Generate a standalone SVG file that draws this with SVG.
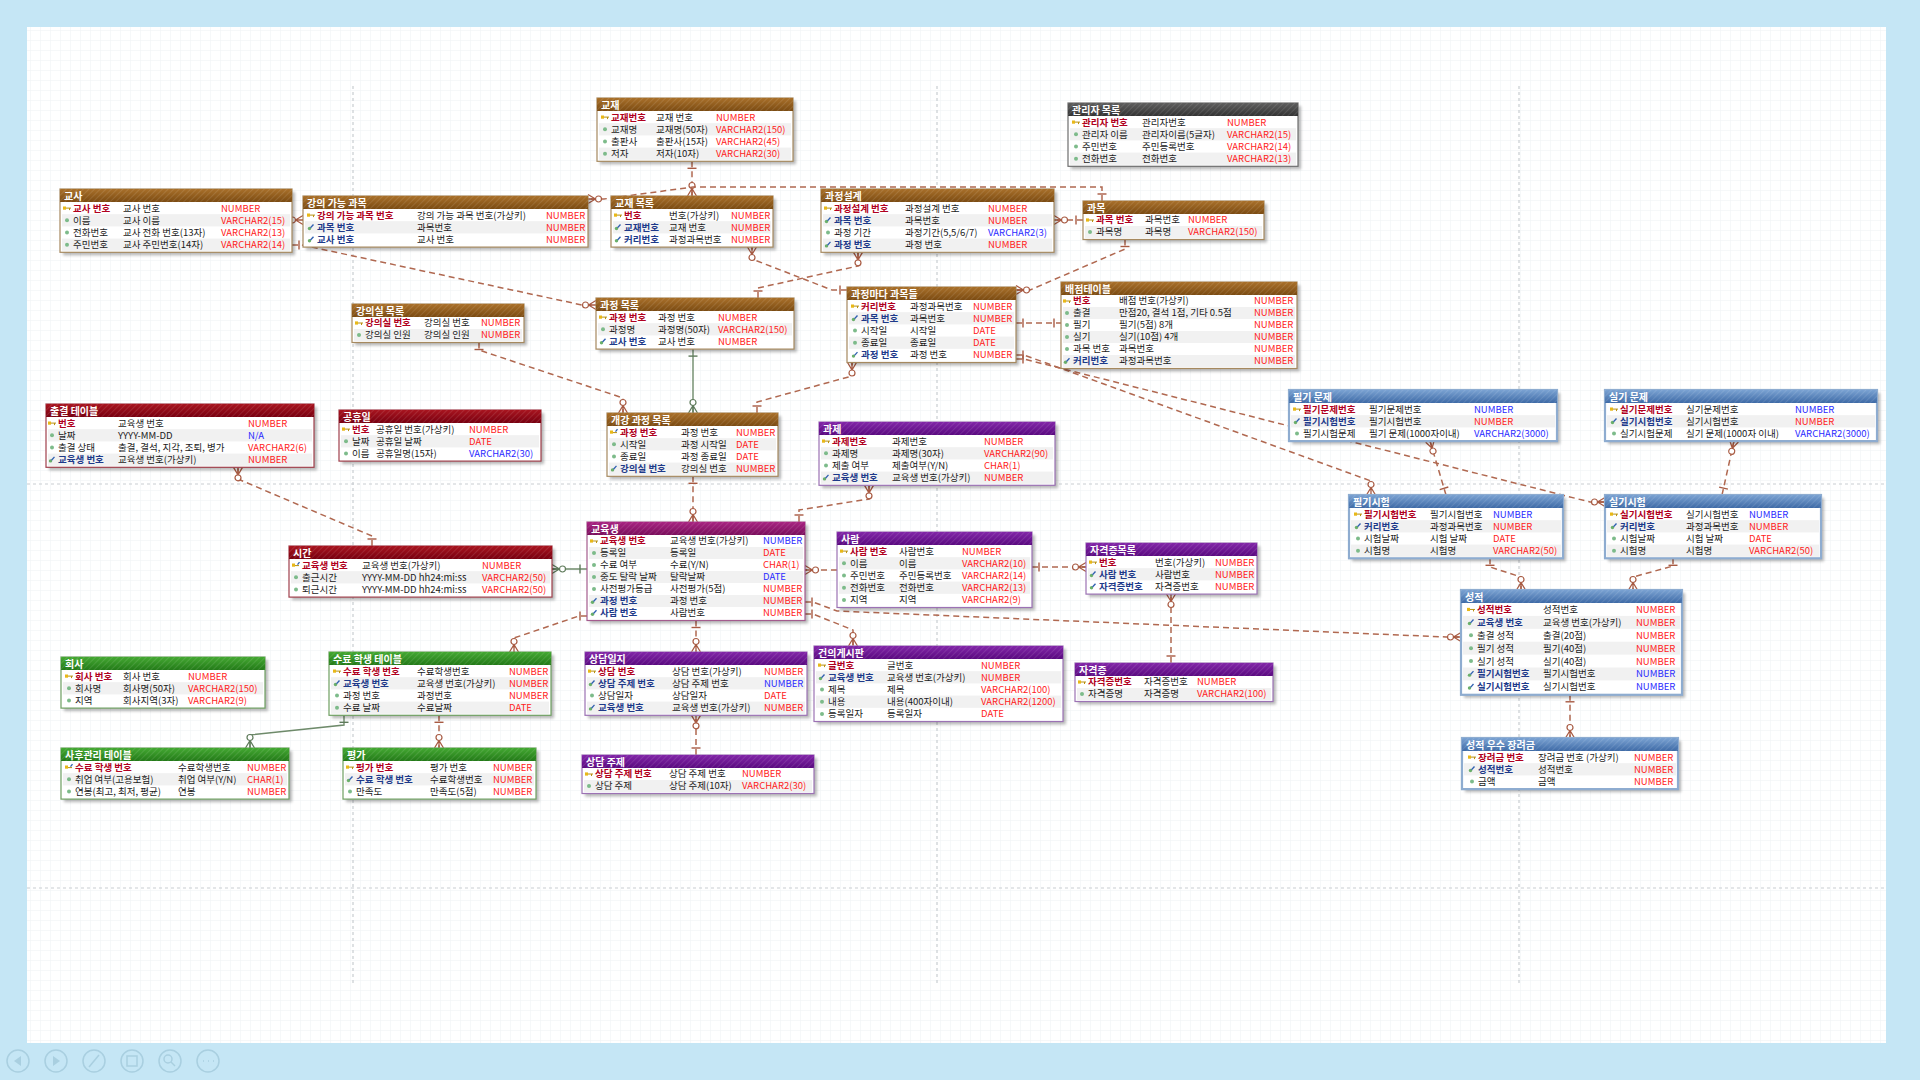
<svg xmlns="http://www.w3.org/2000/svg" width="1920" height="1080" viewBox="0 0 1920 1080">
<style>
text{font-family:"Noto Sans CJK KR","Noto Sans",sans-serif;font-size:9.5px;fill:#1a1a1a}
.ttl{fill:#fff;font-weight:700;font-size:10px}
.pk{fill:#B00020;font-weight:700}
.fk{fill:#1E3A8A;font-weight:700}
.r{fill:#FF2222}
.b{fill:#2B2BFF}
.sh{fill:#000;opacity:.28;filter:url(#blur)}
.alt{fill:#F1F1F1}
.f{fill:#fff;stroke-width:1.2}
.fb{stroke:#A6895F}.fg{stroke:#6E6E6E}.fr{stroke:#A0404C}.fp{stroke:#9C72B4}.fm{stroke:#A45C8E}.fn{stroke:#6FA062}.fl{stroke:#8EACD0;stroke-width:2.2}
.cn{fill:none;stroke:#B06850;stroke-width:1.5;stroke-dasharray:6 4}
.cg{fill:none;stroke:#6E8A6A;stroke-width:1.4}
.pl{fill:none;stroke:#C9CDD1;stroke-width:1.2;stroke-dasharray:3 3}
.tb{fill:none;stroke:#A9CFE0;stroke-width:1.5}
</style>
<defs>
<filter id="blur" x="-10%" y="-10%" width="120%" height="130%"><feGaussianBlur stdDeviation="1.5"/></filter>
<pattern id="grid" width="10" height="10" patternUnits="userSpaceOnUse"><path d="M10,0H0V10" fill="none" stroke="#EEF1F4" stroke-width="1"/></pattern>
<pattern id="hatch" width="4" height="4" patternUnits="userSpaceOnUse" patternTransform="rotate(45)"><path d="M0,0V4" stroke="#fff" stroke-opacity=".14" stroke-width="1.5"/></pattern>
<linearGradient id="gB" x1="0" y1="0" x2="0" y2="1"><stop offset="0" stop-color="#A9702A"/><stop offset="1" stop-color="#7B4B12"/></linearGradient>
<linearGradient id="gG" x1="0" y1="0" x2="0" y2="1"><stop offset="0" stop-color="#5E5E5E"/><stop offset="1" stop-color="#333"/></linearGradient>
<linearGradient id="gR" x1="0" y1="0" x2="0" y2="1"><stop offset="0" stop-color="#A8141F"/><stop offset="1" stop-color="#780010"/></linearGradient>
<linearGradient id="gP" x1="0" y1="0" x2="0" y2="1"><stop offset="0" stop-color="#8226A8"/><stop offset="1" stop-color="#5A0A80"/></linearGradient>
<linearGradient id="gM" x1="0" y1="0" x2="0" y2="1"><stop offset="0" stop-color="#A82482"/><stop offset="1" stop-color="#7A0E5C"/></linearGradient>
<linearGradient id="gN" x1="0" y1="0" x2="0" y2="1"><stop offset="0" stop-color="#44A832"/><stop offset="1" stop-color="#237A18"/></linearGradient>
<linearGradient id="gL" x1="0" y1="0" x2="0" y2="1"><stop offset="0" stop-color="#7AA2D2"/><stop offset="1" stop-color="#3E6AA6"/></linearGradient>
<g id="k"><rect x="-4" y="-1.6" width="3" height="3.2" fill="#E8B818"/><path d="M-1,0H4M2.5,0V2" fill="none" stroke="#B89010" stroke-width="1"/></g>
<g id="f"><circle cx="-1.5" cy="1.2" r="1.7" fill="#6AAF6A"/><path d="M-0.5,0.5L2.5,-2.8" stroke="#3060B0" stroke-width="1.3"/></g>
<g id="kf"><rect x="-4" y="-1.6" width="3" height="3.2" fill="#E8B818"/><path d="M-1,0.5H3" stroke="#B89010" stroke-width="1"/><path d="M1.5,-0.5L3.5,-3" stroke="#3060B0" stroke-width="1.3"/></g>
<circle id="d" r="2" fill="#7DBB8A"/>
<marker id="one" viewBox="-12 -8 24 16" markerWidth="24" markerHeight="16" refX="0" refY="0" orient="auto" markerUnits="userSpaceOnUse" overflow="visible"><path d="M7,-4.5V4.5" fill="none" stroke="#A85A42" stroke-width="1.4"/></marker>
<marker id="oneE" viewBox="-12 -8 24 16" markerWidth="24" markerHeight="16" refX="0" refY="0" orient="auto" markerUnits="userSpaceOnUse" overflow="visible"><path d="M-7,-4.5V4.5" fill="none" stroke="#A85A42" stroke-width="1.4"/></marker>
<marker id="many" viewBox="-16 -8 32 16" markerWidth="32" markerHeight="16" refX="0" refY="0" orient="auto" markerUnits="userSpaceOnUse" overflow="visible"><path d="M-7.5,0L0,-4.5M-7.5,0H0M-7.5,0L0,4.5" fill="none" stroke="#A85A42" stroke-width="1.3"/><circle cx="-10.5" cy="0" r="3" fill="#fff" stroke="#A85A42" stroke-width="1.2"/></marker>
<marker id="oneG" viewBox="-12 -8 24 16" markerWidth="24" markerHeight="16" refX="0" refY="0" orient="auto" markerUnits="userSpaceOnUse" overflow="visible"><path d="M7,-4.5V4.5" fill="none" stroke="#5E7A5A" stroke-width="1.4"/></marker>
<marker id="manyG" viewBox="-16 -8 32 16" markerWidth="32" markerHeight="16" refX="0" refY="0" orient="auto" markerUnits="userSpaceOnUse" overflow="visible"><path d="M-7.5,0L0,-4.5M-7.5,0H0M-7.5,0L0,4.5" fill="none" stroke="#5E7A5A" stroke-width="1.3"/><circle cx="-10.5" cy="0" r="3" fill="#fff" stroke="#5E7A5A" stroke-width="1.2"/></marker>
</defs>

<rect width="1920" height="1080" fill="#C5E6F5"/>
<rect x="27" y="27" width="1859" height="1016" fill="#fff"/>
<rect x="27" y="27" width="1859" height="1016" fill="url(#grid)"/>
<g id="pagelines">
<path class="pl" d="M353,86V986M937,86V986M1519,86V986M27,484H1886M27,888H1886"/>
</g>
<g id="toolbar">
<circle class="tb" cx="18" cy="1061" r="11"/><path d="M21,1056L14,1061L21,1066Z" fill="#A9CFE0"/>
<circle class="tb" cx="56" cy="1061" r="11"/><path d="M53,1056L60,1061L53,1066Z" fill="#A9CFE0"/>
<circle class="tb" cx="94" cy="1061" r="11"/><path class="tb" d="M89,1067L99,1055"/>
<circle class="tb" cx="132" cy="1061" r="11"/><rect class="tb" x="127" y="1056" width="10" height="10"/>
<circle class="tb" cx="170" cy="1061" r="11"/><circle class="tb" cx="168" cy="1059" r="4"/><path class="tb" d="M171,1062L175,1066"/>
<circle class="tb" cx="208" cy="1061" r="11"/><path class="tb" d="M203,1061h1M208,1061h1M213,1061h1"/>
</g>

<g id="connectors">
<path class="cn" marker-start="url(#one)" marker-end="url(#many)" d="M692,161.3V196"/>
<path class="cn" marker-start="url(#one)" marker-end="url(#many)" d="M1102,201V187H693L604,199H588"/>
<path class="cn" marker-end="url(#many)" d="M292,220H303"/>
<path class="cn" marker-start="url(#one)" marker-end="url(#many)" d="M292,245H302L582,305H596"/>
<path class="cn" marker-start="url(#one)" marker-end="url(#many)" d="M847,290H832L752,259V247"/>
<path class="cn" marker-start="url(#one)" marker-end="url(#many)" d="M758,298V288L858,266V252.3"/>
<path class="cn" marker-start="url(#one)" marker-end="url(#many)" d="M1083,220H1054"/>
<path class="cn" marker-start="url(#one)" marker-end="url(#many)" d="M1125,239.5V249L1030,290H1016"/>
<path class="cn" marker-start="url(#one)" marker-end="url(#oneE)" d="M1016,323H1061"/>
<path class="cn" marker-start="url(#one)" marker-end="url(#many)" d="M1016,355H1024L1371,481V495"/>
<path class="cn" marker-start="url(#one)" marker-end="url(#many)" d="M1016,359H1024L1590,502H1605"/>
<path class="cn" marker-start="url(#one)" marker-end="url(#many)" d="M1446,495L1430,441"/>
<path class="cn" marker-start="url(#one)" marker-end="url(#many)" d="M1722,495L1734,441"/>
<path class="cn" marker-start="url(#one)" marker-end="url(#many)" d="M1490,558.3V567L1521,577V590"/>
<path class="cn" marker-start="url(#one)" marker-end="url(#many)" d="M1673,558.3V566L1633,577V590"/>
<path class="cn" marker-start="url(#one)" marker-end="url(#many)" d="M1570,694.8V738"/>
<path class="cn" marker-start="url(#one)" marker-end="url(#many)" d="M805,602H813L837,611L1446,637H1461"/>
<path class="cn" marker-start="url(#one)" marker-end="url(#many)" d="M805,614H813L853,630V646"/>
<path class="cn" marker-end="url(#many)" d="M837,570H805"/>
<path class="cn" marker-start="url(#one)" marker-end="url(#many)" d="M1032,567H1086"/>
<path class="cn" marker-start="url(#one)" marker-end="url(#many)" d="M1171,663V594"/>
<path class="cn" marker-start="url(#one)" marker-end="url(#many)" d="M799,522V510L869,499V485.3"/>
<path class="cn" marker-start="url(#one)" marker-end="url(#many)" d="M693,476.3V522"/>
<path class="cg" marker-start="url(#oneG)" marker-end="url(#manyG)" d="M693,349.1V413"/>
<path class="cn" marker-start="url(#one)" marker-end="url(#many)" d="M479,342.5V350L623,398V413"/>
<path class="cn" marker-start="url(#one)" marker-end="url(#many)" d="M757,413V402L852,376V362.5"/>
<path class="cg" marker-start="url(#oneG)" marker-end="url(#manyG)" d="M587,569H552"/>
<path class="cn" marker-start="url(#one)" marker-end="url(#many)" d="M372,546V536L238,479V467.3"/>
<path class="cn" marker-start="url(#one)" marker-end="url(#many)" d="M587,616H579L514,638V652"/>
<path class="cn" marker-start="url(#one)" marker-end="url(#many)" d="M696,620.5V652"/>
<path class="cn" marker-start="url(#one)" marker-end="url(#many)" d="M696,755V715.3"/>
<path class="cg" marker-start="url(#oneG)" marker-end="url(#manyG)" d="M344,715.3V725L250,735V748"/>
<path class="cn" marker-start="url(#one)" marker-end="url(#many)" d="M439,715.3V748"/>
</g>

<g id="t01" transform="translate(597,98)">
<rect class="sh" x="3" y="3" width="196" height="63.3"/><rect class="f fb" width="196" height="63.3"/>
<rect width="196" height="13" fill="url(#gB)"/><rect width="196" height="13" fill="url(#hatch)"/><text class="ttl" x="4" y="10.5">교재</text>
<rect class="alt" x="2" y="25.2" width="192" height="12.2"/><rect class="alt" x="2" y="49.6" width="192" height="12.2"/>
<use href="#k" x="8" y="19.1"/><text class="pk" x="14" y="22.5">교재번호</text><text x="59" y="22.5">교재 번호</text><text class="r" x="119" y="22.5">NUMBER</text>
<use href="#d" x="8" y="31.3"/><text x="14" y="34.7">교재명</text><text x="59" y="34.7">교재명(50자)</text><text class="r" x="119" y="34.7">VARCHAR2(150)</text>
<use href="#d" x="8" y="43.5"/><text x="14" y="46.9">출판사</text><text x="59" y="46.9">출판사(15자)</text><text class="r" x="119" y="46.9">VARCHAR2(45)</text>
<use href="#d" x="8" y="55.7"/><text x="14" y="59.1">저자</text><text x="59" y="59.1">저자(10자)</text><text class="r" x="119" y="59.1">VARCHAR2(30)</text>
</g>

<g id="t02" transform="translate(1068,103)">
<rect class="sh" x="3" y="3" width="230" height="63.3"/><rect class="f fg" width="230" height="63.3"/>
<rect width="230" height="13" fill="url(#gG)"/><rect width="230" height="13" fill="url(#hatch)"/><text class="ttl" x="4" y="10.5">관리자 목록</text>
<rect class="alt" x="2" y="25.2" width="226" height="12.2"/><rect class="alt" x="2" y="49.6" width="226" height="12.2"/>
<use href="#k" x="8" y="19.1"/><text class="pk" x="14" y="22.5">관리자 번호</text><text x="74" y="22.5">관리자번호</text><text class="r" x="159" y="22.5">NUMBER</text>
<use href="#d" x="8" y="31.3"/><text x="14" y="34.7">관리자 이름</text><text x="74" y="34.7">관리자이름(5글자)</text><text class="r" x="159" y="34.7">VARCHAR2(15)</text>
<use href="#d" x="8" y="43.5"/><text x="14" y="46.9">주민번호</text><text x="74" y="46.9">주민등록번호</text><text class="r" x="159" y="46.9">VARCHAR2(14)</text>
<use href="#d" x="8" y="55.7"/><text x="14" y="59.1">전화번호</text><text x="74" y="59.1">전화번호</text><text class="r" x="159" y="59.1">VARCHAR2(13)</text>
</g>

<g id="t03" transform="translate(60,189)">
<rect class="sh" x="3" y="3" width="232" height="63.3"/><rect class="f fb" width="232" height="63.3"/>
<rect width="232" height="13" fill="url(#gB)"/><rect width="232" height="13" fill="url(#hatch)"/><text class="ttl" x="4" y="10.5">교사</text>
<rect class="alt" x="2" y="25.2" width="228" height="12.2"/><rect class="alt" x="2" y="49.6" width="228" height="12.2"/>
<use href="#k" x="7" y="19.1"/><text class="pk" x="13" y="22.5">교사 번호</text><text x="63" y="22.5">교사 번호</text><text class="r" x="161" y="22.5">NUMBER</text>
<use href="#d" x="7" y="31.3"/><text x="13" y="34.7">이름</text><text x="63" y="34.7">교사 이름</text><text class="r" x="161" y="34.7">VARCHAR2(15)</text>
<use href="#d" x="7" y="43.5"/><text x="13" y="46.9">전화번호</text><text x="63" y="46.9">교사 전화 번호(13자)</text><text class="r" x="161" y="46.9">VARCHAR2(13)</text>
<use href="#d" x="7" y="55.7"/><text x="13" y="59.1">주민번호</text><text x="63" y="59.1">교사 주민번호(14자)</text><text class="r" x="161" y="59.1">VARCHAR2(14)</text>
</g>

<g id="t04" transform="translate(303,196)">
<rect class="sh" x="3" y="3" width="285" height="51.1"/><rect class="f fb" width="285" height="51.1"/>
<rect width="285" height="13" fill="url(#gB)"/><rect width="285" height="13" fill="url(#hatch)"/><text class="ttl" x="4" y="10.5">강의 가능 과목</text>
<rect class="alt" x="2" y="25.2" width="281" height="12.2"/>
<use href="#k" x="8" y="19.1"/><text class="pk" x="14" y="22.5">강의 가능 과목 번호</text><text x="114" y="22.5">강의 가능 과목 번호(가상키)</text><text class="r" x="243" y="22.5">NUMBER</text>
<use href="#f" x="8" y="31.3"/><text class="fk" x="14" y="34.7">과목 번호</text><text x="114" y="34.7">과목번호</text><text class="r" x="243" y="34.7">NUMBER</text>
<use href="#f" x="8" y="43.5"/><text class="fk" x="14" y="46.9">교사 번호</text><text x="114" y="46.9">교사 번호</text><text class="r" x="243" y="46.9">NUMBER</text>
</g>

<g id="t05" transform="translate(611,196)">
<rect class="sh" x="3" y="3" width="162" height="51.1"/><rect class="f fb" width="162" height="51.1"/>
<rect width="162" height="13" fill="url(#gB)"/><rect width="162" height="13" fill="url(#hatch)"/><text class="ttl" x="4" y="10.5">교재 목록</text>
<rect class="alt" x="2" y="25.2" width="158" height="12.2"/>
<use href="#k" x="7" y="19.1"/><text class="pk" x="13" y="22.5">번호</text><text x="58" y="22.5">번호(가상키)</text><text class="r" x="120" y="22.5">NUMBER</text>
<use href="#f" x="7" y="31.3"/><text class="fk" x="13" y="34.7">교재번호</text><text x="58" y="34.7">교재 번호</text><text class="r" x="120" y="34.7">NUMBER</text>
<use href="#f" x="7" y="43.5"/><text class="fk" x="13" y="46.9">커리번호</text><text x="58" y="46.9">과정과목번호</text><text class="r" x="120" y="46.9">NUMBER</text>
</g>

<g id="t06" transform="translate(821,189)">
<rect class="sh" x="3" y="3" width="233" height="63.3"/><rect class="f fb" width="233" height="63.3"/>
<rect width="233" height="13" fill="url(#gB)"/><rect width="233" height="13" fill="url(#hatch)"/><text class="ttl" x="4" y="10.5">과정설계</text>
<rect class="alt" x="2" y="25.2" width="229" height="12.2"/><rect class="alt" x="2" y="49.6" width="229" height="12.2"/>
<use href="#k" x="7" y="19.1"/><text class="pk" x="13" y="22.5">과정설계 번호</text><text x="84" y="22.5">과정설계 번호</text><text class="r" x="167" y="22.5">NUMBER</text>
<use href="#f" x="7" y="31.3"/><text class="fk" x="13" y="34.7">과목 번호</text><text x="84" y="34.7">과목번호</text><text class="r" x="167" y="34.7">NUMBER</text>
<use href="#d" x="7" y="43.5"/><text x="13" y="46.9">과정 기간</text><text x="84" y="46.9">과정기간(5,5/6/7)</text><text class="b" x="167" y="46.9">VARCHAR2(3)</text>
<use href="#f" x="7" y="55.7"/><text class="fk" x="13" y="59.1">과정 번호</text><text x="84" y="59.1">과정 번호</text><text class="r" x="167" y="59.1">NUMBER</text>
</g>

<g id="t07" transform="translate(1083,201)">
<rect class="sh" x="3" y="3" width="181" height="38.5"/><rect class="f fb" width="181" height="38.5"/>
<rect width="181" height="13" fill="url(#gB)"/><rect width="181" height="13" fill="url(#hatch)"/><text class="ttl" x="4" y="10.5">과목</text>
<rect class="alt" x="2" y="25" width="177" height="12"/>
<use href="#k" x="7" y="19"/><text class="pk" x="13" y="22.4">과목 번호</text><text x="62" y="22.4">과목번호</text><text class="r" x="105" y="22.4">NUMBER</text>
<use href="#d" x="7" y="31"/><text x="13" y="34.4">과목명</text><text x="62" y="34.4">과목명</text><text class="r" x="105" y="34.4">VARCHAR2(150)</text>
</g>

<g id="t08" transform="translate(352,304)">
<rect class="sh" x="3" y="3" width="172" height="38.5"/><rect class="f fb" width="172" height="38.5"/>
<rect width="172" height="13" fill="url(#gB)"/><rect width="172" height="13" fill="url(#hatch)"/><text class="ttl" x="4" y="10.5">강의실 목록</text>
<rect class="alt" x="2" y="25" width="168" height="12"/>
<use href="#k" x="7" y="19"/><text class="pk" x="13" y="22.4">강의실 번호</text><text x="72" y="22.4">강의실 번호</text><text class="r" x="129" y="22.4">NUMBER</text>
<use href="#d" x="7" y="31"/><text x="13" y="34.4">강의실 인원</text><text x="72" y="34.4">강의실 인원</text><text class="r" x="129" y="34.4">NUMBER</text>
</g>

<g id="t09" transform="translate(596,298)">
<rect class="sh" x="3" y="3" width="198" height="51.1"/><rect class="f fb" width="198" height="51.1"/>
<rect width="198" height="13" fill="url(#gB)"/><rect width="198" height="13" fill="url(#hatch)"/><text class="ttl" x="4" y="10.5">과정 목록</text>
<rect class="alt" x="2" y="25.2" width="194" height="12.2"/>
<use href="#k" x="7" y="19.1"/><text class="pk" x="13" y="22.5">과정 번호</text><text x="62" y="22.5">과정 번호</text><text class="r" x="122" y="22.5">NUMBER</text>
<use href="#d" x="7" y="31.3"/><text x="13" y="34.7">과정명</text><text x="62" y="34.7">과정명(50자)</text><text class="r" x="122" y="34.7">VARCHAR2(150)</text>
<use href="#f" x="7" y="43.5"/><text class="fk" x="13" y="46.9">교사 번호</text><text x="62" y="46.9">교사 번호</text><text class="r" x="122" y="46.9">NUMBER</text>
</g>

<g id="t10" transform="translate(847,287)">
<rect class="sh" x="3" y="3" width="169" height="75.5"/><rect class="f fb" width="169" height="75.5"/>
<rect width="169" height="13" fill="url(#gB)"/><rect width="169" height="13" fill="url(#hatch)"/><text class="ttl" x="4" y="10.5">과정마다 과목들</text>
<rect class="alt" x="2" y="25.2" width="165" height="12.2"/><rect class="alt" x="2" y="49.6" width="165" height="12.2"/>
<use href="#k" x="8" y="19.1"/><text class="pk" x="14" y="22.5">커리번호</text><text x="63" y="22.5">과정과목번호</text><text class="r" x="126" y="22.5">NUMBER</text>
<use href="#f" x="8" y="31.3"/><text class="fk" x="14" y="34.7">과목 번호</text><text x="63" y="34.7">과목번호</text><text class="r" x="126" y="34.7">NUMBER</text>
<use href="#d" x="8" y="43.5"/><text x="14" y="46.9">시작일</text><text x="63" y="46.9">시작일</text><text class="r" x="126" y="46.9">DATE</text>
<use href="#d" x="8" y="55.7"/><text x="14" y="59.1">종료일</text><text x="63" y="59.1">종료일</text><text class="r" x="126" y="59.1">DATE</text>
<use href="#f" x="8" y="67.9"/><text class="fk" x="14" y="71.3">과정 번호</text><text x="63" y="71.3">과정 번호</text><text class="r" x="126" y="71.3">NUMBER</text>
</g>

<g id="t11" transform="translate(1061,282)">
<rect class="sh" x="3" y="3" width="236" height="86.5"/><rect class="f fb" width="236" height="86.5"/>
<rect width="236" height="13" fill="url(#gB)"/><rect width="236" height="13" fill="url(#hatch)"/><text class="ttl" x="4" y="10.5">배점테이블</text>
<rect class="alt" x="2" y="25" width="232" height="12"/><rect class="alt" x="2" y="49" width="232" height="12"/><rect class="alt" x="2" y="73" width="232" height="12"/>
<use href="#k" x="6" y="19"/><text class="pk" x="12" y="22.4">번호</text><text x="58" y="22.4">배점 번호(가상키)</text><text class="r" x="193" y="22.4">NUMBER</text>
<use href="#d" x="6" y="31"/><text x="12" y="34.4">출결</text><text x="58" y="34.4">만점20, 결석 1점, 기타 0.5점</text><text class="r" x="193" y="34.4">NUMBER</text>
<use href="#d" x="6" y="43"/><text x="12" y="46.4">필기</text><text x="58" y="46.4">필기(5점) 8개</text><text class="r" x="193" y="46.4">NUMBER</text>
<use href="#d" x="6" y="55"/><text x="12" y="58.4">실기</text><text x="58" y="58.4">실기(10점) 4개</text><text class="r" x="193" y="58.4">NUMBER</text>
<use href="#d" x="6" y="67"/><text x="12" y="70.4">과목 번호</text><text x="58" y="70.4">과목번호</text><text class="r" x="193" y="70.4">NUMBER</text>
<use href="#f" x="6" y="79"/><text class="fk" x="12" y="82.4">커리번호</text><text x="58" y="82.4">과정과목번호</text><text class="r" x="193" y="82.4">NUMBER</text>
</g>

<g id="t12" transform="translate(46,404)">
<rect class="sh" x="3" y="3" width="268" height="63.3"/><rect class="f fr" width="268" height="63.3"/>
<rect width="268" height="13" fill="url(#gR)"/><rect width="268" height="13" fill="url(#hatch)"/><text class="ttl" x="4" y="10.5">출결 테이블</text>
<rect class="alt" x="2" y="25.2" width="264" height="12.2"/><rect class="alt" x="2" y="49.6" width="264" height="12.2"/>
<use href="#k" x="6" y="19.1"/><text class="pk" x="12" y="22.5">번호</text><text x="72" y="22.5">교육생 번호</text><text class="r" x="202" y="22.5">NUMBER</text>
<use href="#d" x="6" y="31.3"/><text x="12" y="34.7">날짜</text><text x="72" y="34.7">YYYY-MM-DD</text><text class="b" x="202" y="34.7">N/A</text>
<use href="#d" x="6" y="43.5"/><text x="12" y="46.9">출결 상태</text><text x="72" y="46.9">출결, 결석, 지각, 조퇴, 병가</text><text class="r" x="202" y="46.9">VARCHAR2(6)</text>
<use href="#f" x="6" y="55.7"/><text class="fk" x="12" y="59.1">교육생 번호</text><text x="72" y="59.1">교육생 번호(가상키)</text><text class="r" x="202" y="59.1">NUMBER</text>
</g>

<g id="t13" transform="translate(339,410)">
<rect class="sh" x="3" y="3" width="202" height="51.1"/><rect class="f fr" width="202" height="51.1"/>
<rect width="202" height="13" fill="url(#gR)"/><rect width="202" height="13" fill="url(#hatch)"/><text class="ttl" x="4" y="10.5">공휴일</text>
<rect class="alt" x="2" y="25.2" width="198" height="12.2"/>
<use href="#k" x="7" y="19.1"/><text class="pk" x="13" y="22.5">번호</text><text x="37" y="22.5">공휴일 번호(가상키)</text><text class="r" x="130" y="22.5">NUMBER</text>
<use href="#d" x="7" y="31.3"/><text x="13" y="34.7">날짜</text><text x="37" y="34.7">공휴일 날짜</text><text class="r" x="130" y="34.7">DATE</text>
<use href="#d" x="7" y="43.5"/><text x="13" y="46.9">이름</text><text x="37" y="46.9">공휴일명(15자)</text><text class="b" x="130" y="46.9">VARCHAR2(30)</text>
</g>

<g id="t14" transform="translate(607,413)">
<rect class="sh" x="3" y="3" width="171" height="63.3"/><rect class="f fb" width="171" height="63.3"/>
<rect width="171" height="13" fill="url(#gB)"/><rect width="171" height="13" fill="url(#hatch)"/><text class="ttl" x="4" y="10.5">개강 과정 목록</text>
<rect class="alt" x="2" y="25.2" width="167" height="12.2"/><rect class="alt" x="2" y="49.6" width="167" height="12.2"/>
<use href="#kf" x="7" y="19.1"/><text class="pk" x="13" y="22.5">과정 번호</text><text x="74" y="22.5">과정 번호</text><text class="r" x="129" y="22.5">NUMBER</text>
<use href="#d" x="7" y="31.3"/><text x="13" y="34.7">시작일</text><text x="74" y="34.7">과정 시작일</text><text class="r" x="129" y="34.7">DATE</text>
<use href="#d" x="7" y="43.5"/><text x="13" y="46.9">종료일</text><text x="74" y="46.9">과정 종료일</text><text class="r" x="129" y="46.9">DATE</text>
<use href="#f" x="7" y="55.7"/><text class="fk" x="13" y="59.1">강의실 번호</text><text x="74" y="59.1">강의실 번호</text><text class="r" x="129" y="59.1">NUMBER</text>
</g>

<g id="t15" transform="translate(819,422)">
<rect class="sh" x="3" y="3" width="236" height="63.3"/><rect class="f fp" width="236" height="63.3"/>
<rect width="236" height="13" fill="url(#gP)"/><rect width="236" height="13" fill="url(#hatch)"/><text class="ttl" x="4" y="10.5">과제</text>
<rect class="alt" x="2" y="25.2" width="232" height="12.2"/><rect class="alt" x="2" y="49.6" width="232" height="12.2"/>
<use href="#k" x="7" y="19.1"/><text class="pk" x="13" y="22.5">과제번호</text><text x="73" y="22.5">과제번호</text><text class="r" x="165" y="22.5">NUMBER</text>
<use href="#d" x="7" y="31.3"/><text x="13" y="34.7">과제명</text><text x="73" y="34.7">과제명(30자)</text><text class="r" x="165" y="34.7">VARCHAR2(90)</text>
<use href="#d" x="7" y="43.5"/><text x="13" y="46.9">제출 여부</text><text x="73" y="46.9">제출여부(Y/N)</text><text class="r" x="165" y="46.9">CHAR(1)</text>
<use href="#f" x="7" y="55.7"/><text class="fk" x="13" y="59.1">교육생 번호</text><text x="73" y="59.1">교육생 번호(가상키)</text><text class="r" x="165" y="59.1">NUMBER</text>
</g>

<g id="t16" transform="translate(1289,390)">
<rect class="sh" x="3" y="3" width="268" height="51.1"/><rect class="f fl" width="268" height="51.1"/>
<rect width="268" height="13" fill="url(#gL)"/><rect width="268" height="13" fill="url(#hatch)"/><text class="ttl" x="4" y="10.5">필기 문제</text>
<rect class="alt" x="2" y="25.2" width="264" height="12.2"/>
<use href="#k" x="8" y="19.1"/><text class="pk" x="14" y="22.5">필기문제번호</text><text x="80" y="22.5">필기문제번호</text><text class="b" x="185" y="22.5">NUMBER</text>
<use href="#f" x="8" y="31.3"/><text class="fk" x="14" y="34.7">필기시험번호</text><text x="80" y="34.7">필기시험번호</text><text class="r" x="185" y="34.7">NUMBER</text>
<use href="#d" x="8" y="43.5"/><text x="14" y="46.9">필기시험문제</text><text x="80" y="46.9">필기 문제(1000자이내)</text><text class="b" x="185" y="46.9">VARCHAR2(3000)</text>
</g>

<g id="t17" transform="translate(1605,390)">
<rect class="sh" x="3" y="3" width="272" height="51.1"/><rect class="f fl" width="272" height="51.1"/>
<rect width="272" height="13" fill="url(#gL)"/><rect width="272" height="13" fill="url(#hatch)"/><text class="ttl" x="4" y="10.5">실기 문제</text>
<rect class="alt" x="2" y="25.2" width="268" height="12.2"/>
<use href="#k" x="9" y="19.1"/><text class="pk" x="15" y="22.5">실기문제번호</text><text x="81" y="22.5">실기문제번호</text><text class="b" x="190" y="22.5">NUMBER</text>
<use href="#f" x="9" y="31.3"/><text class="fk" x="15" y="34.7">실기시험번호</text><text x="81" y="34.7">실기시험번호</text><text class="r" x="190" y="34.7">NUMBER</text>
<use href="#d" x="9" y="43.5"/><text x="15" y="46.9">실기시험문제</text><text x="81" y="46.9">실기 문제(1000자 이내)</text><text class="b" x="190" y="46.9">VARCHAR2(3000)</text>
</g>

<g id="t18" transform="translate(1349,495)">
<rect class="sh" x="3" y="3" width="214" height="63.3"/><rect class="f fl" width="214" height="63.3"/>
<rect width="214" height="13" fill="url(#gL)"/><rect width="214" height="13" fill="url(#hatch)"/><text class="ttl" x="4" y="10.5">필기시험</text>
<rect class="alt" x="2" y="25.2" width="210" height="12.2"/><rect class="alt" x="2" y="49.6" width="210" height="12.2"/>
<use href="#k" x="9" y="19.1"/><text class="pk" x="15" y="22.5">필기시험번호</text><text x="81" y="22.5">필기시험번호</text><text class="b" x="144" y="22.5">NUMBER</text>
<use href="#f" x="9" y="31.3"/><text class="fk" x="15" y="34.7">커리번호</text><text x="81" y="34.7">과정과목번호</text><text class="r" x="144" y="34.7">NUMBER</text>
<use href="#d" x="9" y="43.5"/><text x="15" y="46.9">시험날짜</text><text x="81" y="46.9">시험 날짜</text><text class="r" x="144" y="46.9">DATE</text>
<use href="#d" x="9" y="55.7"/><text x="15" y="59.1">시험명</text><text x="81" y="59.1">시험명</text><text class="r" x="144" y="59.1">VARCHAR2(50)</text>
</g>

<g id="t19" transform="translate(1605,495)">
<rect class="sh" x="3" y="3" width="216" height="63.3"/><rect class="f fl" width="216" height="63.3"/>
<rect width="216" height="13" fill="url(#gL)"/><rect width="216" height="13" fill="url(#hatch)"/><text class="ttl" x="4" y="10.5">실기시험</text>
<rect class="alt" x="2" y="25.2" width="212" height="12.2"/><rect class="alt" x="2" y="49.6" width="212" height="12.2"/>
<use href="#k" x="9" y="19.1"/><text class="pk" x="15" y="22.5">실기시험번호</text><text x="81" y="22.5">실기시험번호</text><text class="b" x="144" y="22.5">NUMBER</text>
<use href="#f" x="9" y="31.3"/><text class="fk" x="15" y="34.7">커리번호</text><text x="81" y="34.7">과정과목번호</text><text class="r" x="144" y="34.7">NUMBER</text>
<use href="#d" x="9" y="43.5"/><text x="15" y="46.9">시험날짜</text><text x="81" y="46.9">시험 날짜</text><text class="r" x="144" y="46.9">DATE</text>
<use href="#d" x="9" y="55.7"/><text x="15" y="59.1">시험명</text><text x="81" y="59.1">시험명</text><text class="r" x="144" y="59.1">VARCHAR2(50)</text>
</g>

<g id="t20" transform="translate(289,546)">
<rect class="sh" x="3" y="3" width="263" height="51.1"/><rect class="f fr" width="263" height="51.1"/>
<rect width="263" height="13" fill="url(#gR)"/><rect width="263" height="13" fill="url(#hatch)"/><text class="ttl" x="4" y="10.5">시간</text>
<rect class="alt" x="2" y="25.2" width="259" height="12.2"/>
<use href="#kf" x="7" y="19.1"/><text class="pk" x="13" y="22.5">교육생 번호</text><text x="73" y="22.5">교육생 번호(가상키)</text><text class="r" x="193" y="22.5">NUMBER</text>
<use href="#d" x="7" y="31.3"/><text x="13" y="34.7">출근시간</text><text x="73" y="34.7">YYYY-MM-DD hh24:mi:ss</text><text class="r" x="193" y="34.7">VARCHAR2(50)</text>
<use href="#d" x="7" y="43.5"/><text x="13" y="46.9">퇴근시간</text><text x="73" y="46.9">YYYY-MM-DD hh24:mi:ss</text><text class="r" x="193" y="46.9">VARCHAR2(50)</text>
</g>

<g id="t21" transform="translate(587,522)">
<rect class="sh" x="3" y="3" width="218" height="98.5"/><rect class="f fm" width="218" height="98.5"/>
<rect width="218" height="13" fill="url(#gM)"/><rect width="218" height="13" fill="url(#hatch)"/><text class="ttl" x="4" y="10.5">교육생</text>
<rect class="alt" x="2" y="25" width="214" height="12"/><rect class="alt" x="2" y="49" width="214" height="12"/><rect class="alt" x="2" y="73" width="214" height="12"/>
<use href="#k" x="7" y="19"/><text class="pk" x="13" y="22.4">교육생 번호</text><text x="83" y="22.4">교육생 번호(가상키)</text><text class="b" x="176" y="22.4">NUMBER</text>
<use href="#d" x="7" y="31"/><text x="13" y="34.4">등록일</text><text x="83" y="34.4">등록일</text><text class="r" x="176" y="34.4">DATE</text>
<use href="#d" x="7" y="43"/><text x="13" y="46.4">수료 여부</text><text x="83" y="46.4">수료(Y/N)</text><text class="r" x="176" y="46.4">CHAR(1)</text>
<use href="#d" x="7" y="55"/><text x="13" y="58.4">중도 탈락 날짜</text><text x="83" y="58.4">탈락날짜</text><text class="b" x="176" y="58.4">DATE</text>
<use href="#d" x="7" y="67"/><text x="13" y="70.4">사전평가등급</text><text x="83" y="70.4">사전평가(5점)</text><text class="r" x="176" y="70.4">NUMBER</text>
<use href="#f" x="7" y="79"/><text class="fk" x="13" y="82.4">과정 번호</text><text x="83" y="82.4">과정 번호</text><text class="r" x="176" y="82.4">NUMBER</text>
<use href="#f" x="7" y="91"/><text class="fk" x="13" y="94.4">사람 번호</text><text x="83" y="94.4">사람번호</text><text class="r" x="176" y="94.4">NUMBER</text>
</g>

<g id="t22" transform="translate(837,532)">
<rect class="sh" x="3" y="3" width="195" height="75.5"/><rect class="f fp" width="195" height="75.5"/>
<rect width="195" height="13" fill="url(#gP)"/><rect width="195" height="13" fill="url(#hatch)"/><text class="ttl" x="4" y="10.5">사람</text>
<rect class="alt" x="2" y="25.2" width="191" height="12.2"/><rect class="alt" x="2" y="49.6" width="191" height="12.2"/>
<use href="#k" x="7" y="19.1"/><text class="pk" x="13" y="22.5">사람 번호</text><text x="62" y="22.5">사람번호</text><text class="r" x="125" y="22.5">NUMBER</text>
<use href="#d" x="7" y="31.3"/><text x="13" y="34.7">이름</text><text x="62" y="34.7">이름</text><text class="r" x="125" y="34.7">VARCHAR2(10)</text>
<use href="#d" x="7" y="43.5"/><text x="13" y="46.9">주민번호</text><text x="62" y="46.9">주민등록번호</text><text class="r" x="125" y="46.9">VARCHAR2(14)</text>
<use href="#d" x="7" y="55.7"/><text x="13" y="59.1">전화번호</text><text x="62" y="59.1">전화번호</text><text class="r" x="125" y="59.1">VARCHAR2(13)</text>
<use href="#d" x="7" y="67.9"/><text x="13" y="71.3">지역</text><text x="62" y="71.3">지역</text><text class="r" x="125" y="71.3">VARCHAR2(9)</text>
</g>

<g id="t23" transform="translate(1086,543)">
<rect class="sh" x="3" y="3" width="171" height="51.1"/><rect class="f fp" width="171" height="51.1"/>
<rect width="171" height="13" fill="url(#gP)"/><rect width="171" height="13" fill="url(#hatch)"/><text class="ttl" x="4" y="10.5">자격증목록</text>
<rect class="alt" x="2" y="25.2" width="167" height="12.2"/>
<use href="#k" x="7" y="19.1"/><text class="pk" x="13" y="22.5">번호</text><text x="69" y="22.5">번호(가상키)</text><text class="r" x="129" y="22.5">NUMBER</text>
<use href="#f" x="7" y="31.3"/><text class="fk" x="13" y="34.7">사람 번호</text><text x="69" y="34.7">사람번호</text><text class="r" x="129" y="34.7">NUMBER</text>
<use href="#f" x="7" y="43.5"/><text class="fk" x="13" y="46.9">자격증번호</text><text x="69" y="46.9">자격증번호</text><text class="r" x="129" y="46.9">NUMBER</text>
</g>

<g id="t24" transform="translate(1461,590)">
<rect class="sh" x="3" y="3" width="221" height="104.8"/><rect class="f fl" width="221" height="104.8"/>
<rect width="221" height="13" fill="url(#gL)"/><rect width="221" height="13" fill="url(#hatch)"/><text class="ttl" x="4" y="10.5">성적</text>
<rect class="alt" x="2" y="25.9" width="217" height="12.9"/><rect class="alt" x="2" y="51.7" width="217" height="12.9"/><rect class="alt" x="2" y="77.5" width="217" height="12.9"/>
<use href="#k" x="10" y="19.45"/><text class="pk" x="16" y="22.9">성적번호</text><text x="82" y="22.9">성적번호</text><text class="r" x="175" y="22.9">NUMBER</text>
<use href="#f" x="10" y="32.35"/><text class="fk" x="16" y="35.8">교육생 번호</text><text x="82" y="35.8">교육생 번호(가상키)</text><text class="r" x="175" y="35.8">NUMBER</text>
<use href="#d" x="10" y="45.25"/><text x="16" y="48.7">출결 성적</text><text x="82" y="48.7">출결(20점)</text><text class="r" x="175" y="48.7">NUMBER</text>
<use href="#d" x="10" y="58.15"/><text x="16" y="61.6">필기 성적</text><text x="82" y="61.6">필기(40점)</text><text class="r" x="175" y="61.6">NUMBER</text>
<use href="#d" x="10" y="71.05"/><text x="16" y="74.5">실기 성적</text><text x="82" y="74.5">실기(40점)</text><text class="r" x="175" y="74.5">NUMBER</text>
<use href="#f" x="10" y="83.95"/><text class="fk" x="16" y="87.4">필기시험번호</text><text x="82" y="87.4">필기시험번호</text><text class="b" x="175" y="87.4">NUMBER</text>
<use href="#f" x="10" y="96.85"/><text class="fk" x="16" y="100.3">실기시험번호</text><text x="82" y="100.3">실기시험번호</text><text class="b" x="175" y="100.3">NUMBER</text>
</g>

<g id="t25" transform="translate(61,657)">
<rect class="sh" x="3" y="3" width="204" height="51.1"/><rect class="f fn" width="204" height="51.1"/>
<rect width="204" height="13" fill="url(#gN)"/><rect width="204" height="13" fill="url(#hatch)"/><text class="ttl" x="4" y="10.5">회사</text>
<rect class="alt" x="2" y="25.2" width="200" height="12.2"/>
<use href="#k" x="8" y="19.1"/><text class="pk" x="14" y="22.5">회사 번호</text><text x="62" y="22.5">회사 번호</text><text class="r" x="127" y="22.5">NUMBER</text>
<use href="#d" x="8" y="31.3"/><text x="14" y="34.7">회사명</text><text x="62" y="34.7">회사명(50자)</text><text class="r" x="127" y="34.7">VARCHAR2(150)</text>
<use href="#d" x="8" y="43.5"/><text x="14" y="46.9">지역</text><text x="62" y="46.9">회사지역(3자)</text><text class="r" x="127" y="46.9">VARCHAR2(9)</text>
</g>

<g id="t26" transform="translate(329,652)">
<rect class="sh" x="3" y="3" width="222" height="63.3"/><rect class="f fn" width="222" height="63.3"/>
<rect width="222" height="13" fill="url(#gN)"/><rect width="222" height="13" fill="url(#hatch)"/><text class="ttl" x="4" y="10.5">수료 학생 테이블</text>
<rect class="alt" x="2" y="25.2" width="218" height="12.2"/><rect class="alt" x="2" y="49.6" width="218" height="12.2"/>
<use href="#k" x="8" y="19.1"/><text class="pk" x="14" y="22.5">수료 학생 번호</text><text x="88" y="22.5">수료학생번호</text><text class="r" x="180" y="22.5">NUMBER</text>
<use href="#f" x="8" y="31.3"/><text class="fk" x="14" y="34.7">교육생 번호</text><text x="88" y="34.7">교육생 번호(가상키)</text><text class="r" x="180" y="34.7">NUMBER</text>
<use href="#d" x="8" y="43.5"/><text x="14" y="46.9">과정 번호</text><text x="88" y="46.9">과정번호</text><text class="r" x="180" y="46.9">NUMBER</text>
<use href="#d" x="8" y="55.7"/><text x="14" y="59.1">수료 날짜</text><text x="88" y="59.1">수료날짜</text><text class="r" x="180" y="59.1">DATE</text>
</g>

<g id="t27" transform="translate(585,652)">
<rect class="sh" x="3" y="3" width="222" height="63.3"/><rect class="f fp" width="222" height="63.3"/>
<rect width="222" height="13" fill="url(#gP)"/><rect width="222" height="13" fill="url(#hatch)"/><text class="ttl" x="4" y="10.5">상담일지</text>
<rect class="alt" x="2" y="25.2" width="218" height="12.2"/><rect class="alt" x="2" y="49.6" width="218" height="12.2"/>
<use href="#k" x="7" y="19.1"/><text class="pk" x="13" y="22.5">상담 번호</text><text x="87" y="22.5">상담 번호(가상키)</text><text class="r" x="179" y="22.5">NUMBER</text>
<use href="#f" x="7" y="31.3"/><text class="fk" x="13" y="34.7">상담 주제 번호</text><text x="87" y="34.7">상담 주제 번호</text><text class="b" x="179" y="34.7">NUMBER</text>
<use href="#d" x="7" y="43.5"/><text x="13" y="46.9">상담일자</text><text x="87" y="46.9">상담일자</text><text class="r" x="179" y="46.9">DATE</text>
<use href="#f" x="7" y="55.7"/><text class="fk" x="13" y="59.1">교육생 번호</text><text x="87" y="59.1">교육생 번호(가상키)</text><text class="r" x="179" y="59.1">NUMBER</text>
</g>

<g id="t28" transform="translate(814,646)">
<rect class="sh" x="3" y="3" width="249" height="75.5"/><rect class="f fp" width="249" height="75.5"/>
<rect width="249" height="13" fill="url(#gP)"/><rect width="249" height="13" fill="url(#hatch)"/><text class="ttl" x="4" y="10.5">건의게시판</text>
<rect class="alt" x="2" y="25.2" width="245" height="12.2"/><rect class="alt" x="2" y="49.6" width="245" height="12.2"/>
<use href="#k" x="8" y="19.1"/><text class="pk" x="14" y="22.5">글번호</text><text x="73" y="22.5">글번호</text><text class="r" x="167" y="22.5">NUMBER</text>
<use href="#f" x="8" y="31.3"/><text class="fk" x="14" y="34.7">교육생 번호</text><text x="73" y="34.7">교육생 번호(가상키)</text><text class="r" x="167" y="34.7">NUMBER</text>
<use href="#d" x="8" y="43.5"/><text x="14" y="46.9">제목</text><text x="73" y="46.9">제목</text><text class="r" x="167" y="46.9">VARCHAR2(100)</text>
<use href="#d" x="8" y="55.7"/><text x="14" y="59.1">내용</text><text x="73" y="59.1">내용(400자이내)</text><text class="r" x="167" y="59.1">VARCHAR2(1200)</text>
<use href="#d" x="8" y="67.9"/><text x="14" y="71.3">등록일자</text><text x="73" y="71.3">등록일자</text><text class="r" x="167" y="71.3">DATE</text>
</g>

<g id="t29" transform="translate(1075,663)">
<rect class="sh" x="3" y="3" width="198" height="38.5"/><rect class="f fp" width="198" height="38.5"/>
<rect width="198" height="13" fill="url(#gP)"/><rect width="198" height="13" fill="url(#hatch)"/><text class="ttl" x="4" y="10.5">자격증</text>
<rect class="alt" x="2" y="25" width="194" height="12"/>
<use href="#k" x="7" y="19"/><text class="pk" x="13" y="22.4">자격증번호</text><text x="69" y="22.4">자격증번호</text><text class="r" x="122" y="22.4">NUMBER</text>
<use href="#d" x="7" y="31"/><text x="13" y="34.4">자격증명</text><text x="69" y="34.4">자격증명</text><text class="r" x="122" y="34.4">VARCHAR2(100)</text>
</g>

<g id="t30" transform="translate(1462,738)">
<rect class="sh" x="3" y="3" width="216" height="51.1"/><rect class="f fl" width="216" height="51.1"/>
<rect width="216" height="13" fill="url(#gL)"/><rect width="216" height="13" fill="url(#hatch)"/><text class="ttl" x="4" y="10.5">성적 우수 장려금</text>
<rect class="alt" x="2" y="25.2" width="212" height="12.2"/>
<use href="#k" x="10" y="19.1"/><text class="pk" x="16" y="22.5">장려금 번호</text><text x="76" y="22.5">장려금 번호 (가상키)</text><text class="r" x="172" y="22.5">NUMBER</text>
<use href="#f" x="10" y="31.3"/><text class="fk" x="16" y="34.7">성적번호</text><text x="76" y="34.7">성적번호</text><text class="r" x="172" y="34.7">NUMBER</text>
<use href="#d" x="10" y="43.5"/><text x="16" y="46.9">금액</text><text x="76" y="46.9">금액</text><text class="r" x="172" y="46.9">NUMBER</text>
</g>

<g id="t31" transform="translate(61,748)">
<rect class="sh" x="3" y="3" width="228" height="51.1"/><rect class="f fn" width="228" height="51.1"/>
<rect width="228" height="13" fill="url(#gN)"/><rect width="228" height="13" fill="url(#hatch)"/><text class="ttl" x="4" y="10.5">사후관리 테이블</text>
<rect class="alt" x="2" y="25.2" width="224" height="12.2"/>
<use href="#kf" x="8" y="19.1"/><text class="pk" x="14" y="22.5">수료 학생 번호</text><text x="117" y="22.5">수료학생번호</text><text class="r" x="186" y="22.5">NUMBER</text>
<use href="#d" x="8" y="31.3"/><text x="14" y="34.7">취업 여부(고용보험)</text><text x="117" y="34.7">취업 여부(Y/N)</text><text class="r" x="186" y="34.7">CHAR(1)</text>
<use href="#d" x="8" y="43.5"/><text x="14" y="46.9">연봉(최고, 최저, 평균)</text><text x="117" y="46.9">연봉</text><text class="r" x="186" y="46.9">NUMBER</text>
</g>

<g id="t32" transform="translate(343,748)">
<rect class="sh" x="3" y="3" width="193" height="51.1"/><rect class="f fn" width="193" height="51.1"/>
<rect width="193" height="13" fill="url(#gN)"/><rect width="193" height="13" fill="url(#hatch)"/><text class="ttl" x="4" y="10.5">평가</text>
<rect class="alt" x="2" y="25.2" width="189" height="12.2"/>
<use href="#k" x="7" y="19.1"/><text class="pk" x="13" y="22.5">평가 번호</text><text x="87" y="22.5">평가 번호</text><text class="r" x="150" y="22.5">NUMBER</text>
<use href="#f" x="7" y="31.3"/><text class="fk" x="13" y="34.7">수료 학생 번호</text><text x="87" y="34.7">수료학생번호</text><text class="r" x="150" y="34.7">NUMBER</text>
<use href="#d" x="7" y="43.5"/><text x="13" y="46.9">만족도</text><text x="87" y="46.9">만족도(5점)</text><text class="r" x="150" y="46.9">NUMBER</text>
</g>

<g id="t33" transform="translate(582,755)">
<rect class="sh" x="3" y="3" width="232" height="38.5"/><rect class="f fp" width="232" height="38.5"/>
<rect width="232" height="13" fill="url(#gP)"/><rect width="232" height="13" fill="url(#hatch)"/><text class="ttl" x="4" y="10.5">상담 주제</text>
<rect class="alt" x="2" y="25" width="228" height="12"/>
<use href="#k" x="7" y="19"/><text class="pk" x="13" y="22.4">상담 주제 번호</text><text x="87" y="22.4">상담 주제 번호</text><text class="r" x="160" y="22.4">NUMBER</text>
<use href="#d" x="7" y="31"/><text x="13" y="34.4">상담 주제</text><text x="87" y="34.4">상담 주제(10자)</text><text class="r" x="160" y="34.4">VARCHAR2(30)</text>
</g>
</svg>
